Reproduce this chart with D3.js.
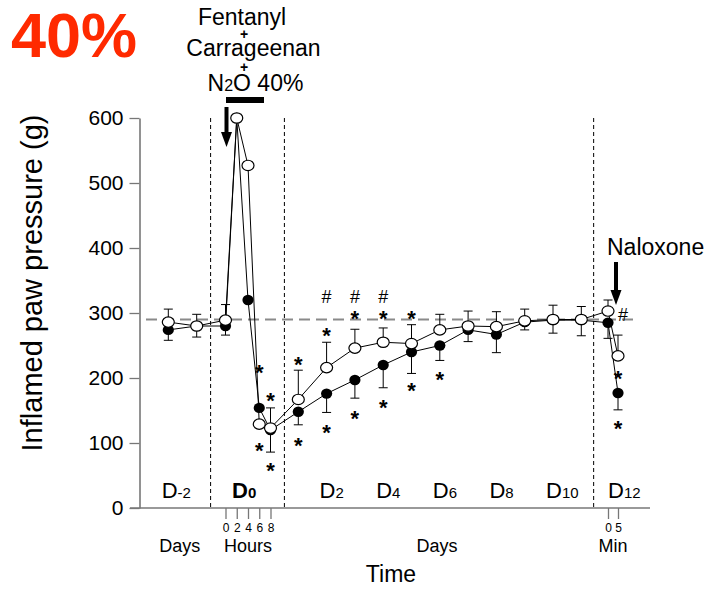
<!DOCTYPE html>
<html>
<head>
<meta charset="utf-8">
<script src="https://cdn.jsdelivr.net/npm/d3@7"></script>
<style>
body{margin:0;background:#fff}
text{font-family:"Liberation Sans",Arial,Helvetica,sans-serif}
</style>
</head>
<body>
<svg id="chart" width="713" height="590"></svg>
<script>
// time points, one array per segment of the x axis
const preDays = [-2, -1]
const hours = [0, 2, 4, 6, 8]
const days = [1, 2, 3, 4, 5, 6, 7, 8, 9, 10, 11]
const mins = [0, 5]

// filled circles
const preFilled = [274, 280], preFilledErr = [16, 17]
const hourFilled = [280, 600, 320, 154, 120], hourFilledErr = [14, 0, 0, 0, 34]
const dayFilled = [148, 176, 197, 220, 240, 250, 274, 267, 286, 289, 289]
const dayFilledErr = [20, 29, 28, 35, 33, 23, 18, 28, 12, 20, 24]
const minFilled = [285, 177], minFilledErr = [24, 26]

// open circles
const preOpen = [286, 280], preOpenErr = [20, 18]
const hourOpen = [289, 600, 527, 129, 123], hourOpenErr = [24, 0, 0, 0, 31]
const dayOpen = [167, 216, 246, 255, 253, 274, 280, 279, 288, 290, 290]
const dayOpenErr = [45, 39, 29, 22, 29, 24, 23, 23, 18, 22, 20]
const minOpen = [303, 234], minOpenErr = [17, 32]

const baseline = 290
const yTicks = [0, 100, 200, 300, 400, 500, 600]

// significance marks: [time, level]
const hourStars = [[6, 218], [6, 97], [8, 174], [8, 66]]
const dayStars = [[1, 229], [1, 105], [2, 274], [2, 125], [3, 300], [3, 146], [4, 300], [4, 163], [5, 300], [5, 189], [6, 206]]
const minStars = [[5, 208], [5, 131]]
const dayHashes = [[2, 326], [3, 326], [4, 326]]
const minHashes = [[0, 297]]

const dayLabels = [[2, "2"], [4, "4"], [6, "6"], [8, "8"], [10, "10"]]

const svg = d3.select("#chart")

const y = d3.scaleLinear().domain([0, 600]).range([508, 118])
const xPre = d3.scaleLinear().domain([-2, -1]).range([168.3, 196.7])
const xHour = d3.scaleLinear().domain([0, 8]).range([225.5, 270.5])
const xDay = d3.scaleLinear().domain([1, 11]).range([298.3, 581.3])
const xMin = d3.scaleLinear().domain([0, 5]).range([608, 618])

function build(pre, preE, hr, hrE, dy, dyE, mn, mnE)
{
    return [].concat(
        preDays.map((d, i) => ({x: xPre(d), v: pre[i], e: preE[i]})),
        hours.map((h, i) => ({x: xHour(h), v: hr[i], e: hrE[i]})),
        days.map((d, i) => ({x: xDay(d), v: dy[i], e: dyE[i]})),
        mins.map((m, i) => ({x: xMin(m), v: mn[i], e: mnE[i]}))
    )
}

const filled = build(preFilled, preFilledErr, hourFilled, hourFilledErr, dayFilled, dayFilledErr, minFilled, minFilledErr)
const open = build(preOpen, preOpenErr, hourOpen, hourOpenErr, dayOpen, dayOpenErr, minOpen, minOpenErr)

// vertical phase separators
const seps = [(xPre(-1) + xHour(0)) / 2 - 0.5, (xHour(8) + xDay(1)) / 2, (xDay(11) + xMin(0)) / 2 - 1]
svg.selectAll(".sep").data(seps).join("line")
    .attr("x1", d => d).attr("x2", d => d)
    .attr("y1", y(600)).attr("y2", y(0))
    .attr("stroke", "#000").attr("stroke-width", 1).attr("stroke-dasharray", "4,3")

// baseline
svg.append("line")
    .attr("x1", 146).attr("x2", 634)
    .attr("y1", y(baseline)).attr("y2", y(baseline))
    .attr("stroke", "#8a8a8a").attr("stroke-width", 2).attr("stroke-dasharray", "11,6")

// y axis
const yAxis = svg.append("g").attr("transform", "translate(139.5,0)")
    .call(d3.axisLeft(y).tickValues(yTicks).tickSize(10).tickSizeOuter(0).tickPadding(6))
yAxis.select(".domain").attr("stroke", "#777").attr("stroke-width", 1.6)
yAxis.selectAll(".tick line").attr("stroke", "#777").attr("stroke-width", 1.3)
yAxis.selectAll("text").attr("font-size", 21).attr("fill", "#000")
    .attr("font-family", "Liberation Sans,Arial,sans-serif")

// x axis line
svg.append("line")
    .attr("x1", 130).attr("x2", 650).attr("y1", 508).attr("y2", 508)
    .attr("stroke", "#777").attr("stroke-width", 1.6)

// hour and minute ticks
function smallAxis(scale, vals)
{
    let g = svg.append("g").attr("transform", "translate(0,508)")
        .call(d3.axisBottom(scale).tickValues(vals).tickFormat(d3.format("d")).tickSize(11).tickPadding(4))
    g.select(".domain").remove()
    g.selectAll(".tick line").attr("stroke", "#777").attr("stroke-width", 1.3)
    g.selectAll("text").attr("font-size", 12).attr("fill", "#000")
        .attr("font-family", "Liberation Sans,Arial,sans-serif")
}
smallAxis(xHour, hours)
smallAxis(xMin, mins)

// connecting lines
const line = d3.line().x(d => d.x).y(d => y(d.v))
svg.append("path").datum(filled).attr("d", line).attr("fill", "none").attr("stroke", "#000").attr("stroke-width", 1)
svg.append("path").datum(open).attr("d", line).attr("fill", "none").attr("stroke", "#000").attr("stroke-width", 1)

// error bars: filled go down, open go up
function errBars(data, dir)
{
    let g = svg.append("g").attr("stroke", "#000").attr("stroke-width", 1)
    let d2 = data.filter(d => d.e > 0)
    g.selectAll(".eb").data(d2).join("line")
        .attr("x1", d => d.x).attr("x2", d => d.x)
        .attr("y1", d => y(d.v)).attr("y2", d => y(d.v + dir * d.e))
    g.selectAll(".cap").data(d2).join("line")
        .attr("x1", d => d.x - 4.5).attr("x2", d => d.x + 4.5)
        .attr("y1", d => y(d.v + dir * d.e)).attr("y2", d => y(d.v + dir * d.e))
}
errBars(filled, -1)
errBars(open, 1)

svg.selectAll(".pf").data(filled).join("ellipse")
    .attr("cx", d => d.x).attr("cy", d => y(d.v)).attr("rx", 5.6).attr("ry", 5.2)
    .attr("fill", "#000")
svg.selectAll(".po").data(open).join("ellipse")
    .attr("cx", d => d.x).attr("cy", d => y(d.v)).attr("rx", 6).attr("ry", 5.2)
    .attr("fill", "#fff").attr("stroke", "#000").attr("stroke-width", 1.2)

// stars and hashes
const stars = [].concat(
    hourStars.map(d => [xHour(d[0]), d[1]]),
    dayStars.map(d => [xDay(d[0]), d[1]]),
    minStars.map(d => [xMin(d[0]), d[1]])
)
svg.selectAll(".star").data(stars).join("text")
    .attr("x", d => d[0]).attr("y", d => y(d[1])).attr("dy", "0.6em")
    .attr("text-anchor", "middle").attr("font-size", 22).attr("font-weight", "bold")
    .text("*")
const hashes = [].concat(
    dayHashes.map(d => [xDay(d[0]), d[1]]),
    minHashes.map(d => [xMin(d[0]) + 15, d[1]])
)
svg.selectAll(".hash").data(hashes).join("text")
    .attr("x", d => d[0]).attr("y", d => y(d[1])).attr("dy", "0.36em")
    .attr("text-anchor", "middle").attr("font-size", 18)
    .text("#")

// day labels inside the plot
function dLabel(x, sub, bold)
{
    let t = svg.append("text").attr("x", x).attr("y", 498).attr("font-size", 22)
        .attr("font-weight", bold ? "bold" : "normal")
    t.append("tspan").text("D")
    t.append("tspan").attr("font-size", 15).text(sub)
}
dLabel(xPre(-2) - 6.6, "-2", false)
dLabel(xHour(0) + 6.5, "0", true)
dayLabels.forEach(d => dLabel(xDay(d[0]) - 7, d[1], false))
dLabel(xMin(0), "12", false)

// labels under the axis
const under = [[xPre(-1.6), "Days"], [xHour(4), "Hours"], [xDay(5.9), "Days"], [xMin(2.5), "Min"]]
svg.selectAll(".under").data(under).join("text")
    .attr("x", d => d[0]).attr("y", 551.5).attr("text-anchor", "middle").attr("font-size", 18)
    .text(d => d[1])

svg.append("text").attr("x", 391).attr("y", 582).attr("text-anchor", "middle")
    .attr("font-size", 23).text("Time")

svg.append("text").attr("transform", "translate(42,283) rotate(-90)")
    .attr("text-anchor", "middle").attr("font-size", 29)
    .text("Inflamed paw pressure (g)")

// title block
svg.append("text").attr("x", 11).attr("y", 57).attr("font-size", 63).attr("font-weight", "bold")
    .attr("fill", "#ff2a00").text("40%")

svg.append("text").attr("x", 242).attr("y", 25).attr("text-anchor", "middle").attr("font-size", 23).text("Fentanyl")
svg.append("text").attr("x", 244).attr("y", 38.5).attr("text-anchor", "middle").attr("font-size", 14).attr("font-weight", "bold").text("+")
svg.append("text").attr("x", 253.5).attr("y", 56).attr("text-anchor", "middle").attr("font-size", 23).text("Carrageenan")
svg.append("text").attr("x", 244).attr("y", 72).attr("text-anchor", "middle").attr("font-size", 14).attr("font-weight", "bold").text("+")
let n2o = svg.append("text").attr("x", 255.5).attr("y", 91).attr("text-anchor", "middle").attr("font-size", 23)
n2o.append("tspan").text("N")
n2o.append("tspan").attr("font-size", 16).text("2")
n2o.append("tspan").text("O 40%")

// exposure bar and arrows
svg.append("rect").attr("x", xHour(0) + 0.5).attr("y", 97).attr("width", 38).attr("height", 6).attr("fill", "#000")

function arrow(x, y0, y1)
{
    svg.append("line").attr("x1", x).attr("x2", x).attr("y1", y0).attr("y2", y1 - 12)
        .attr("stroke", "#000").attr("stroke-width", 4)
    svg.append("path").attr("d", `M${x - 5.5},${y1 - 15}L${x + 5.5},${y1 - 15}L${x},${y1}Z`).attr("fill", "#000")
}
arrow(xHour(0) + 1, 107, 147)
arrow(xMin(4.5) - 1, 262, 305)

svg.append("text").attr("x", 607).attr("y", 255).attr("font-size", 23).text("Naloxone")
</script>
</body>
</html>
